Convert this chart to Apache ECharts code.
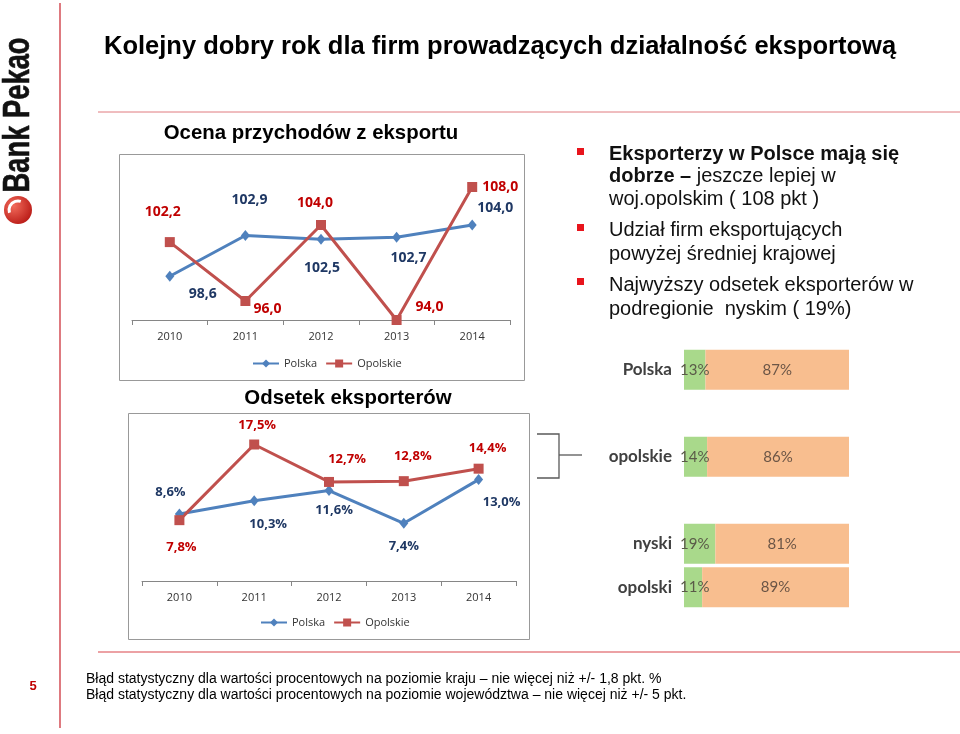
<!DOCTYPE html>
<html>
<head>
<meta charset="utf-8">
<script src="https://cdn.jsdelivr.net/npm/echarts@6/dist/echarts.min.js"></script>
<style>
  html, body { margin: 0; padding: 0; background: #fff; }
  #chart { width: 960px; height: 734px; }
</style>
</head>
<body>
<div id="chart"></div>
<script>
// data
const years = ['2010', '2011', '2012', '2013', '2014'];
const revenuePolska = [98.6, 102.9, 102.5, 102.7, 104.0];
const revenueOpolskie = [102.2, 96.0, 104.0, 94.0, 108.0];
const sharePolska = [8.6, 10.3, 11.6, 7.4, 13.0];
const shareOpolskie = [7.8, 17.5, 12.7, 12.8, 14.4];
const regions = ['Polska', 'opolskie', 'nyski', 'opolski'];
const exporters = [13, 14, 19, 11];
const nonExporters = [87, 86, 81, 89];

// label offsets (layout only)
const revPolskaOff = [[33, 18], [4, -35], [1, 29], [12, 21], [23, -17]];
const revOpolskieOff = [[-7, -30], [22, 8], [-6, -22], [33, -13], [28, 0]];
const shrPolskaOff = [[-9, -22], [14, 24], [5, 20], [0, 23], [23, 23]];
const shrOpolskieOff = [[2, 27], [3, -19], [18, -23], [9, -25], [9, -20]];
const rowSlot = [0, 2, 4, 5];
const slotCount = 6;

const BLUE = '#4F81BD';
const RED = '#C0504D';
const FONT = 'Liberation Sans, Arial, sans-serif';
const CAL = 'Open Sans, sans-serif';

const fmtNum = v => v.toFixed(1).replace('.', ',');
const fmtPct = v => v.toFixed(1).replace('.', ',') + '%';

function lineSeries(name, values, offsets, idx, color, symbol, size, labelColor, fmt, fontSize) {
  return {
    type: 'line',
    name: name,
    xAxisIndex: idx,
    yAxisIndex: idx,
    data: values.map((v, i) => ({ value: v, label: { offset: offsets[i] } })),
    symbol: symbol,
    symbolSize: size,
    lineStyle: { width: 3, color: color },
    itemStyle: { color: color },
    emphasis: { disabled: true },
    label: {
      show: true,
      position: 'inside',
      fontFamily: CAL,
      fontWeight: 'bold',
      fontSize: fontSize,
      color: labelColor,
      formatter: p => fmt(p.value)
    }
  };
}

// bar chart rows placed on slots (gaps between groups)
const barCats = new Array(slotCount).fill('');
const expSlots = new Array(slotCount).fill('-');
const nonSlots = new Array(slotCount).fill('-');
regions.forEach((r, i) => {
  barCats[rowSlot[i]] = r;
  expSlots[rowSlot[i]] = exporters[i];
  nonSlots[rowSlot[i]] = nonExporters[i];
});

const catAxis = idx => ({
  type: 'category',
  gridIndex: idx,
  data: years,
  axisLine: { lineStyle: { color: '#868686', width: 1 } },
  axisTick: { show: true, length: 5, lineStyle: { color: '#868686' } },
  axisLabel: { color: '#333', fontSize: 11, fontFamily: CAL, margin: 11 }
});

const legendFor = (left, top) => ({
  data: ['Polska', 'Opolskie'], left: left, top: top, padding: 0,
  itemWidth: 26, itemHeight: 10, itemGap: 8,
  textStyle: { fontFamily: CAL, fontSize: 11, color: '#333' }
});

const bulletText = (y, text) => ({
  type: 'text', x: 609, y: y,
  style: {
    text: text, fontFamily: FONT, fontSize: 20, fill: '#111', textVerticalAlign: 'middle',
    rich: { b: { fontFamily: FONT, fontWeight: 'bold', fontSize: 20, fill: '#111' } }
  }
});

const chart = echarts.init(document.getElementById('chart'));

const option = {
  animation: false,
  backgroundColor: '#fff',
  grid: [
    { left: 132, top: 168, width: 378, height: 152, containLabel: false, outerBoundsMode: 'none' },
    { left: 142, top: 425, width: 374, height: 156, containLabel: false, outerBoundsMode: 'none' },
    { left: 684, top: 348, width: 165, height: 261, containLabel: false, outerBoundsMode: 'none' }
  ],
  xAxis: [
    catAxis(0),
    catAxis(1),
    { type: 'value', gridIndex: 2, min: 0, max: 100, show: false }
  ],
  yAxis: [
    { type: 'value', gridIndex: 0, min: 94, max: 110, show: false },
    { type: 'value', gridIndex: 1, min: 0, max: 20, show: false },
    {
      type: 'category', gridIndex: 2, inverse: true, data: barCats,
      axisLine: { show: false }, axisTick: { show: false },
      axisLabel: { margin: 12, fontFamily: 'Lato, sans-serif', fontWeight: 'bold', fontSize: 17, color: '#404040' }
    }
  ],
  legend: [legendFor(252, 358), legendFor(260, 617)],
  series: [
    lineSeries('Polska', revenuePolska, revPolskaOff, 0, BLUE, 'diamond', [9, 11], '#1F3864', fmtNum, 14),
    lineSeries('Opolskie', revenueOpolskie, revOpolskieOff, 0, RED, 'rect', 10, '#C00000', fmtNum, 14),
    lineSeries('Polska', sharePolska, shrPolskaOff, 1, BLUE, 'diamond', [9, 11], '#1F3864', fmtPct, 13),
    lineSeries('Opolskie', shareOpolskie, shrOpolskieOff, 1, RED, 'rect', 10, '#C00000', fmtPct, 13),
    {
      type: 'bar', name: 'eksporterzy', stack: 'udzial', xAxisIndex: 2, yAxisIndex: 2,
      data: expSlots, barWidth: 40,
      itemStyle: { color: '#A9D98B' },
      emphasis: { disabled: true },
      label: {
        show: true, position: 'insideLeft', distance: 0, offset: [-4, 0],
        formatter: '{c}%', fontFamily: 'Lato, sans-serif', fontSize: 15, color: '#5a5a48'
      }
    },
    {
      type: 'bar', name: 'pozostali', stack: 'udzial', xAxisIndex: 2, yAxisIndex: 2,
      data: nonSlots, barWidth: 40,
      itemStyle: { color: '#F8BE8F' },
      emphasis: { disabled: true },
      label: {
        show: true, position: 'inside',
        formatter: '{c}%', fontFamily: 'Lato, sans-serif', fontSize: 15, color: '#6b5546'
      }
    }
  ],
  graphic: [
    // logo
    {
      type: 'text', x: 19, y: 115, rotation: Math.PI / 2, scaleX: 0.76,
      style: { text: 'Bank Pekao', fontFamily: FONT, fontWeight: 'bold', fontSize: 36, fill: '#111',
        textAlign: 'center', textVerticalAlign: 'middle', stroke: '#111', lineWidth: 0.6 }
    },
    {
      type: 'circle', shape: { cx: 18, cy: 210, r: 14 },
      style: {
        fill: new echarts.graphic.RadialGradient(0.35, 0.35, 0.8, [
          { offset: 0, color: '#f26b5b' }, { offset: 1, color: '#b3120f' }
        ])
      }
    },
    {
      type: 'arc', shape: { cx: 18, cy: 210, r: 9, startAngle: Math.PI * 0.9, endAngle: Math.PI * 1.6 },
      style: { stroke: '#fff', lineWidth: 3, fill: null }
    },
    { type: 'line', shape: { x1: 60, y1: 3, x2: 60, y2: 728 }, style: { stroke: '#c8202a', lineWidth: 1.2 } },
    // title
    {
      type: 'text', x: 104, y: 47,
      style: { text: 'Kolejny dobry rok dla firm prowadzących działalność eksportową', fontFamily: FONT,
        fontWeight: 'bold', fontSize: 25.5, fill: '#000', textVerticalAlign: 'middle' }
    },
    { type: 'line', shape: { x1: 98, y1: 112, x2: 960, y2: 112 }, style: { stroke: '#e07a7e', lineWidth: 1 } },
    // chart titles and frames
    {
      type: 'text', x: 311, y: 133,
      style: { text: 'Ocena przychodów z eksportu', fontFamily: FONT, fontWeight: 'bold', fontSize: 20.4,
        fill: '#000', textAlign: 'center', textVerticalAlign: 'middle' }
    },
    { type: 'rect', shape: { x: 119.5, y: 154.5, width: 405, height: 226 }, style: { fill: null, stroke: '#999', lineWidth: 1 } },
    {
      type: 'text', x: 348, y: 398,
      style: { text: 'Odsetek eksporterów', fontFamily: FONT, fontWeight: 'bold', fontSize: 20.4,
        fill: '#000', textAlign: 'center', textVerticalAlign: 'middle' }
    },
    { type: 'rect', shape: { x: 128.5, y: 413.5, width: 401, height: 226 }, style: { fill: null, stroke: '#999', lineWidth: 1 } },
    // bracket
    {
      type: 'polyline', shape: { points: [[537, 434], [559, 434], [559, 478], [537, 478]] },
      style: { stroke: '#595959', lineWidth: 1.3, fill: null }
    },
    { type: 'line', shape: { x1: 559, y1: 455, x2: 582, y2: 455 }, style: { stroke: '#595959', lineWidth: 1.3 } },
    // bullets
    { type: 'rect', shape: { x: 577, y: 148, width: 7, height: 7 }, style: { fill: '#e8141c' } },
    { type: 'rect', shape: { x: 577, y: 224, width: 7, height: 7 }, style: { fill: '#e8141c' } },
    { type: 'rect', shape: { x: 577, y: 278, width: 7, height: 7 }, style: { fill: '#e8141c' } },
    bulletText(154, '{b|Eksporterzy w Polsce mają się}'),
    bulletText(176, '{b|dobrze –} jeszcze lepiej w'),
    bulletText(199, 'woj.opolskim ( 108 pkt )'),
    bulletText(230, 'Udział firm eksportujących'),
    bulletText(254, 'powyżej średniej krajowej'),
    bulletText(285, 'Najwyższy odsetek eksporterów w'),
    bulletText(309, 'podregionie  nyskim ( 19%)'),
    // footer
    { type: 'line', shape: { x1: 98, y1: 652, x2: 960, y2: 652 }, style: { stroke: '#d9454a', lineWidth: 1.2 } },
    {
      type: 'text', x: 33, y: 686,
      style: { text: '5', fontFamily: FONT, fontWeight: 'bold', fontSize: 13, fill: '#c00000', textAlign: 'center', textVerticalAlign: 'middle' }
    },
    {
      type: 'text', x: 86, y: 679,
      style: { text: 'Błąd statystyczny dla wartości procentowych na poziomie kraju – nie więcej niż +/- 1,8 pkt. %',
        fontFamily: FONT, fontSize: 14, fill: '#000', textVerticalAlign: 'middle' }
    },
    {
      type: 'text', x: 86, y: 695,
      style: { text: 'Błąd statystyczny dla wartości procentowych na poziomie województwa – nie więcej niż +/- 5 pkt.',
        fontFamily: FONT, fontSize: 14, fill: '#000', textVerticalAlign: 'middle' }
    }
  ]
};

chart.setOption(option);
</script>
</body>
</html>
